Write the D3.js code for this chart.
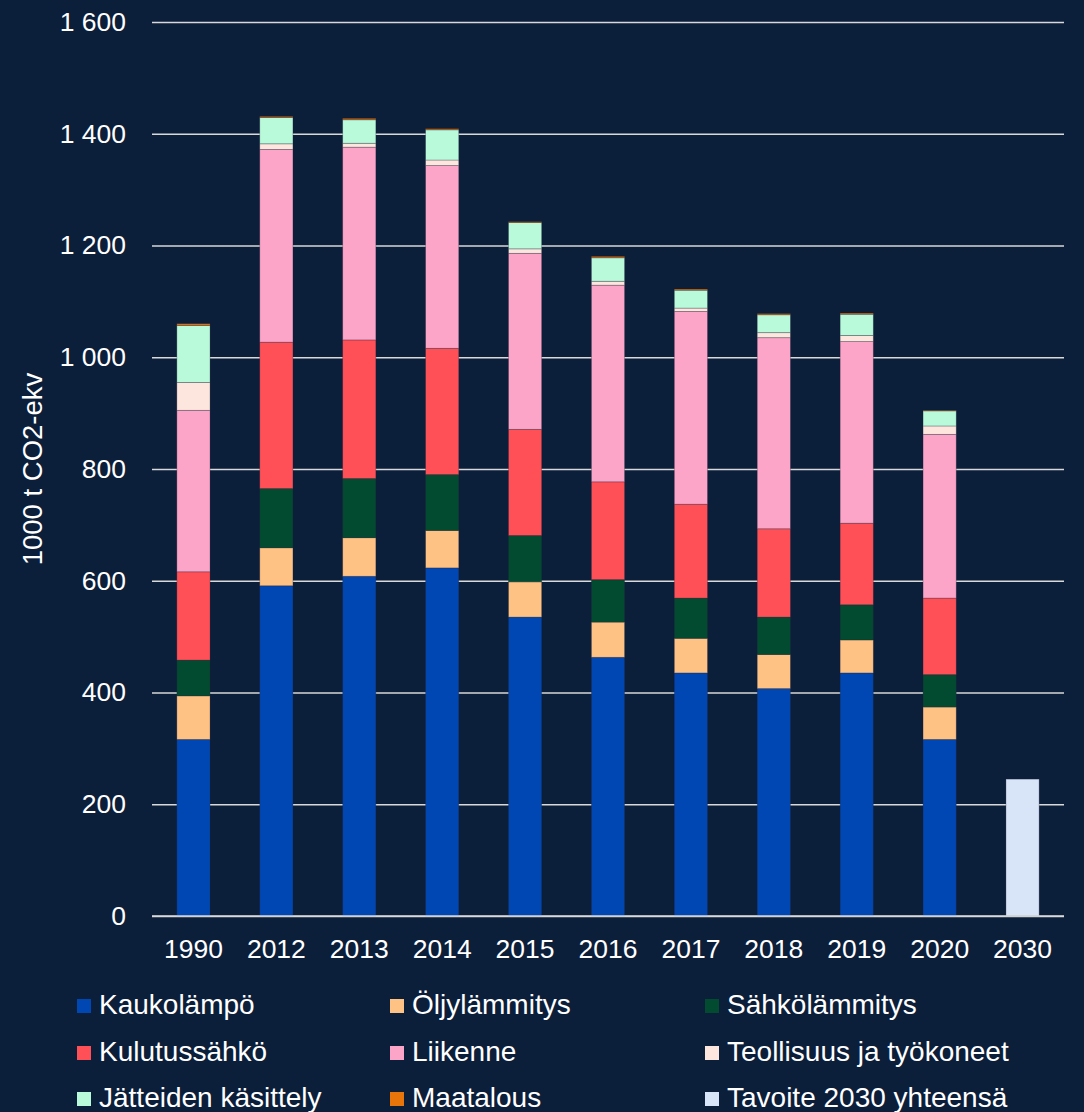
<!DOCTYPE html>
<html>
<head>
<meta charset="utf-8">
<script src="https://cdn.jsdelivr.net/npm/d3@7"></script>
<style>
  html, body { margin: 0; padding: 0; background: #0b1e3a; }
  svg { display: block; }
  text { font-family: "Liberation Sans", Arial, sans-serif; fill: #ffffff; }
</style>
</head>
<body>
<svg id="chart" width="1084" height="1112"></svg>
<script>
// Emissions by sector, 1000 t CO2-ekv
const years = ["1990", "2012", "2013", "2014", "2015", "2016", "2017", "2018", "2019", "2020", "2030"];
const kaukolampo   = [316, 591, 608, 623, 535, 463, 435, 407, 435, 316, 0];
const oljylammitys = [78, 68, 69, 67, 63, 63, 62, 61, 59, 58, 0];
const sahkolammitys = [64, 106, 106, 100, 83, 76, 72, 67, 63, 58, 0];
const kulutussahko = [158, 262, 248, 226, 190, 175, 168, 158, 146, 137, 0];
const liikenne     = [289, 345, 345, 327, 315, 352, 345, 342, 325, 293, 0];
const teollisuus   = [50, 10, 7, 10, 8, 7, 6, 9, 11, 15, 0];
const jatteet      = [102, 47, 42, 54, 47, 42, 32, 32, 38, 27, 0];
const maatalous    = [3, 2, 2.5, 2, 1.5, 2.5, 2, 2, 2, 1, 0];
const tavoite      = [0, 0, 0, 0, 0, 0, 0, 0, 0, 0, 245];

const seriesNames = ["Kaukolämpö", "Öljylämmitys", "Sähkölämmitys", "Kulutussähkö", "Liikenne",
  "Teollisuus ja työkoneet", "Jätteiden käsittely", "Maatalous", "Tavoite 2030 yhteensä"];
const seriesValues = [kaukolampo, oljylammitys, sahkolammitys, kulutussahko, liikenne,
  teollisuus, jatteet, maatalous, tavoite];
const colors = ["#0047b4", "#ffc285", "#024b30", "#ff5057", "#fca5c8",
  "#fde6dd", "#b9fadb", "#e8750a", "#d8e4f7"];
const yTicks = [0, 200, 400, 600, 800, 1000, 1200, 1400, 1600];
const yTitle = "1000 t CO2-ekv";

const svg = d3.select("#chart");
const plotLeft = 152, plotRight = 1064, plotTop = 22, plotBottom = 916;
const FONT = "'Liberation Sans', Arial, sans-serif";

const rows = years.map((yr, i) => {
  const r = { year: yr };
  seriesNames.forEach((n, k) => { r[n] = seriesValues[k][i]; });
  return r;
});
const stacked = d3.stack().keys(seriesNames)(rows);

const x = d3.scaleBand().domain(years).range([plotLeft, plotRight]).paddingInner(0.6).paddingOuter(0.3);
const y = d3.scaleLinear().domain([0, 1600]).range([plotBottom, plotTop]);

const fmt = v => d3.format(",")(v).replace(/,/g, " ");

// gridlines and value labels
svg.append("g")
  .attr("transform", `translate(${plotLeft},0)`)
  .call(d3.axisLeft(y).tickValues(yTicks).tickSize(-(plotRight - plotLeft)).tickFormat(fmt).tickPadding(26))
  .call(g => g.select(".domain").remove())
  .call(g => g.selectAll(".tick line").attr("stroke", "#d9d9d9").attr("stroke-width", 1.5))
  .call(g => g.selectAll(".tick text").attr("font-size", 26.5).attr("fill", "#ffffff")
    .attr("font-family", FONT));

// stacked bars
svg.append("g").selectAll("g")
  .data(stacked)
  .join("g")
  .attr("fill", (d, i) => colors[i])
  .selectAll("rect")
  .data(d => d.filter(p => p[1] - p[0] > 0))
  .join("rect")
  .attr("x", d => x(d.data.year))
  .attr("width", x.bandwidth())
  .attr("y", d => y(d[1]))
  .attr("height", d => y(d[0]) - y(d[1]))
  .attr("stroke", "rgba(40,40,60,0.35)")
  .attr("stroke-width", 0.8);

// x axis labels
svg.append("g")
  .attr("transform", `translate(0,${plotBottom})`)
  .call(d3.axisBottom(x).tickSize(0).tickPadding(23))
  .call(g => g.select(".domain").remove())
  .call(g => g.selectAll(".tick text").attr("font-size", 26.5).attr("fill", "#ffffff")
    .attr("font-family", FONT));

// baseline drawn over bars
svg.append("line")
  .attr("x1", plotLeft).attr("x2", plotRight)
  .attr("y1", y(0)).attr("y2", y(0))
  .attr("stroke", "#d9d9d9").attr("stroke-width", 1.5);

// y title
svg.append("text")
  .attr("transform", `translate(42,${(plotTop + plotBottom) / 2}) rotate(-90)`)
  .attr("text-anchor", "middle")
  .attr("font-size", 27.5)
  .text(yTitle);

// legend
const colX = [77, 390, 705];
const rowY = [1006, 1053, 1099];
const legend = svg.append("g").selectAll("g")
  .data(seriesNames)
  .join("g")
  .attr("transform", (d, i) => `translate(${colX[i % 3]},${rowY[Math.floor(i / 3)]})`);
legend.append("rect")
  .attr("x", 0).attr("y", -7).attr("width", 14).attr("height", 14)
  .attr("fill", (d, i) => colors[i]);
legend.append("text")
  .attr("x", 22).attr("y", 8)
  .attr("font-size", 28)
  .text(d => d);
</script>
</body>
</html>
